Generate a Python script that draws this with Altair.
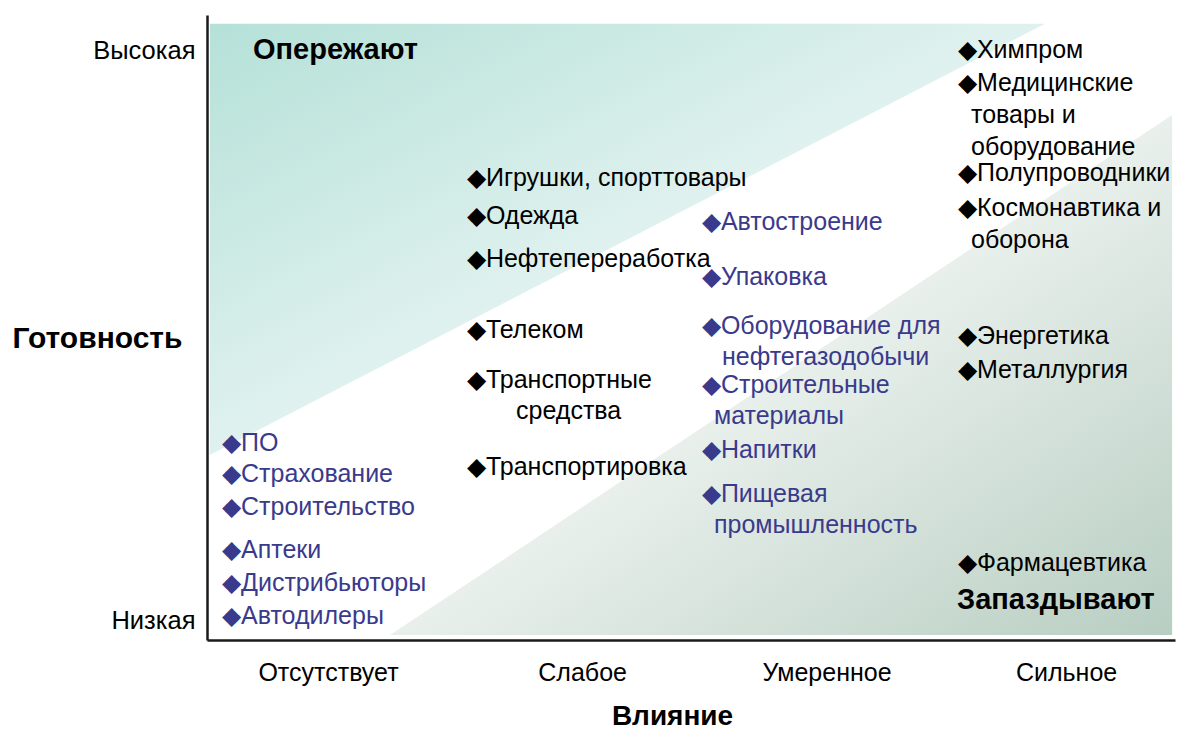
import json
import altair as alt
import pandas as pd

# ---- data -------------------------------------------------------------
influence_labels = ["Отсутствует", "Слабое", "Умеренное", "Сильное"]
influence_label_pos = [0.5, 1.55, 2.56, 3.55]
readiness_labels = ["Высокая", "Низкая"]
readiness_label_pos = [94.4, 3.2]

# one row per printed line: text, influence position, readiness position, group
line_text = [
    "◆ПО", "◆Страхование", "◆Строительство", "◆Аптеки", "◆Дистрибьюторы", "◆Автодилеры",
    "◆Игрушки, спорттовары", "◆Одежда", "◆Нефтепереработка", "◆Телеком",
    "◆Транспортные", "средства", "◆Транспортировка",
    "◆Автостроение", "◆Упаковка", "◆Оборудование для", "нефтегазодобычи",
    "◆Строительные", "материалы", "◆Напитки", "◆Пищевая", "промышленность",
    "◆Химпром", "◆Медицинские", "товары и", "оборудование", "◆Полупроводники",
    "◆Космонавтика и", "оборона", "◆Энергетика", "◆Металлургия", "◆Фармацевтика",
]
line_x = [
    0.062, 0.062, 0.062, 0.062, 0.062, 0.062,
    1.074, 1.074, 1.074, 1.074,
    1.074, 1.277, 1.074,
    2.045, 2.045, 2.045, 2.128,
    2.045, 2.095, 2.045, 2.045, 2.095,
    3.103, 3.103, 3.157, 3.157, 3.103,
    3.103, 3.157, 3.103, 3.103, 3.103,
]
line_y = [
    31.5, 26.6, 21.3, 14.4, 9.1, 3.8,
    73.9, 67.8, 61.0, 49.6,
    41.6, 36.6, 27.7,
    66.9, 58.1, 50.2, 45.3,
    40.8, 35.8, 30.4, 23.4, 18.4,
    94.4, 89.1, 84.0, 78.9, 74.7,
    69.1, 64.0, 48.6, 43.2, 12.3,
]
line_group = (["b"] * 6 + ["k"] * 7 + ["b"] * 9 + ["k"] * 10)

quad_text = ["Опережают", "Запаздывают"]
quad_x = [0.19, 3.099]
quad_y = [94.4, 6.4]

# background zones (lead / lag)
lead_x = [0.012, 3.463]
lead_y = [29.6, 98.6]
lead_y2 = [98.6, 98.6]
lag_x = [0.756, 3.988]
lag_y = [0.8, 84.0]
lag_y2 = [0.8, 0.8]

# ---- chart ------------------------------------------------------------
FONT = "Liberation Sans"

xscale = alt.Scale(domain=[0, 4], nice=False, zero=False)
yscale = alt.Scale(domain=[0, 100], nice=False, zero=False)

label_expr = json.dumps(influence_labels) + "[floor(datum.value)]"
xaxis = alt.Axis(
    values=influence_label_pos, labelExpr=label_expr, grid=False, ticks=False, tickSize=0,
    domainColor="#1a1a1a", domainWidth=2.5, labelFont=FONT,
    labelFontSize=25, labelColor="#000000", labelPadding=20, labelBaseline="top",
    title="Влияние", titleFont=FONT, titleFontSize=28, titleFontWeight="bold",
    titleColor="#000000", titleX=465, titleY=76, titleBaseline="middle", titleAnchor="start",
    titleAlign="center",
)
yaxis = alt.Axis(
    values=readiness_label_pos,
    labelExpr="datum.value > 50 ? " + json.dumps(readiness_labels[0]) + " : " + json.dumps(readiness_labels[1]),
    grid=False, ticks=False, tickSize=0, domainColor="#1a1a1a", domainWidth=2.5,
    labelFont=FONT, labelFontSize=25.5, labelColor="#000000", labelPadding=12,
    labelBaseline="middle",
    title="Готовность", titleFont=FONT, titleFontSize=30, titleFontWeight="bold",
    titleColor="#000000", titleAngle=0, titleX=-110, titleY=323, titleAlign="center",
    titleBaseline="middle", titleAnchor="start",
)

lead_df = pd.DataFrame({"x": lead_x, "y": lead_y, "y2": lead_y2})
lag_df = pd.DataFrame({"x": lag_x, "y": lag_y, "y2": lag_y2})
items_df = pd.DataFrame({"x": line_x, "y": line_y, "t": line_text, "g": line_group})
quad_df = pd.DataFrame({"x": quad_x, "y": quad_y, "t": quad_text})

lead = alt.Chart(lead_df).mark_area(
    color=alt.Gradient(
        gradient="linear",
        stops=[alt.GradientStop(color="#b5e1d8", offset=0),
               alt.GradientStop(color="#e4f3f1", offset=1)],
        x1=0, y1=0, x2=0.55, y2=0.55,
    ),
    interpolate="linear",
).encode(
    x=alt.X("x:Q", scale=xscale, axis=xaxis),
    y=alt.Y("y:Q", scale=yscale, axis=yaxis),
    y2="y2:Q",
)

lag = alt.Chart(lag_df).mark_area(
    color=alt.Gradient(
        gradient="linear",
        stops=[alt.GradientStop(color="#b8cec2", offset=0),
               alt.GradientStop(color="#e9f0ec", offset=1)],
        x1=1, y1=1, x2=0.5, y2=0.5,
    ),
    interpolate="linear",
).encode(
    x=alt.X("x:Q", scale=xscale, axis=xaxis),
    y=alt.Y("y:Q", scale=yscale, axis=yaxis),
    y2="y2:Q",
)

items = alt.Chart(items_df).mark_text(
    align="left", baseline="middle", font=FONT, fontSize=25
).encode(
    x=alt.X("x:Q", scale=xscale, axis=xaxis),
    y=alt.Y("y:Q", scale=yscale, axis=yaxis),
    text="t:N",
    color=alt.Color("g:N", scale=alt.Scale(domain=["k", "b"], range=["#000000", "#3a3a8c"]), legend=None),
)

quads = alt.Chart(quad_df).mark_text(
    align="left", baseline="middle", font=FONT, fontSize=29, fontWeight="bold", color="#000000"
).encode(
    x=alt.X("x:Q", scale=xscale, axis=xaxis),
    y=alt.Y("y:Q", scale=yscale, axis=yaxis),
    text="t:N",
)

chart = alt.layer(lag, lead, items, quads).properties(
    width=968, height=625,
    autosize=alt.AutoSizeParams(type="none"),
    padding={"left": 199, "top": 7, "right": 2, "bottom": 90},
    background="#ffffff",
).configure_view(stroke=None)

chart.save("out.html", embed_options={"renderer": "svg", "actions": False})
